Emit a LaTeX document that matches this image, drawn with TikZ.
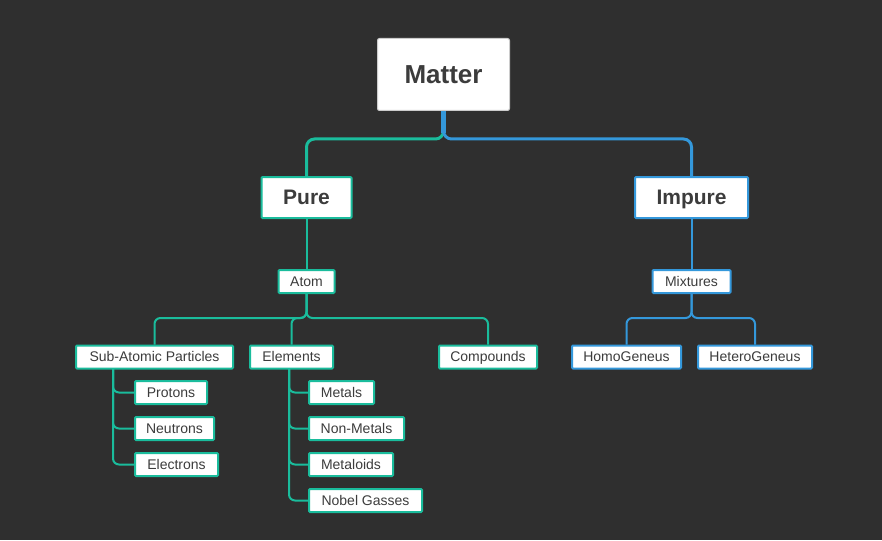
\documentclass[tikz,border=0pt]{standalone}
\usepackage{fontspec}
\setmainfont{Liberation Sans}
\usetikzlibrary{backgrounds}
\definecolor{bg}{HTML}{2F2F2F}
\definecolor{grn}{HTML}{1ABC9C}
\definecolor{blu}{HTML}{3498DB}
\definecolor{txt}{HTML}{3C3C3C}
\definecolor{mborder}{HTML}{CCCCCC}
\begin{document}
\begin{tikzpicture}[x=1pt,y=-1pt,
  box/.style={draw, line width=2pt, fill=white, text=txt, inner sep=0pt,
    rounded corners=1pt, minimum height=23pt, text height=10pt, text depth=0.5pt,
    font=\fontsize{14}{16}\selectfont},
  gbox/.style={box, draw=grn},
  bbox/.style={box, draw=blu},
  big/.style={minimum height=41pt, text height=15pt, text depth=0.5pt,
    font=\fontsize{21}{25}\selectfont\bfseries},
  mbox/.style={draw=mborder, line width=1pt, fill=white, text=txt, rounded corners=2pt,
    text height=18.5pt, text depth=0pt, font=\fontsize{26}{31}\selectfont\bfseries},
  gline/.style={draw=grn, line width=2pt, rounded corners=6pt},
  bline/.style={draw=blu, line width=2pt, rounded corners=6pt},
]
\useasboundingbox (0,0) rectangle (882,540);

\node[mbox, minimum width=132pt, minimum height=72pt] (matter) at (443.5,74.5) {Matter};
\node[gbox, big, minimum width=90pt] (pure) at (306.5,197.5) {Pure};
\node[bbox, big, minimum width=113pt] (impure) at (691.5,197.5) {Impure};
\node[gbox, minimum width=56pt] (atom) at (306.5,281.5) {Atom};
\node[bbox, minimum width=78pt] (mix) at (691.5,281.5) {Mixtures};
\node[gbox, minimum width=157pt] (sub) at (154.5,357) {Sub-Atomic Particles};
\node[gbox, minimum width=83pt] (elem) at (291.5,357) {Elements};
\node[gbox, minimum width=98pt] (comp) at (488,357) {Compounds};
\node[bbox, minimum width=109pt] (homo) at (626.5,357) {HomoGeneus};
\node[bbox, minimum width=114pt] (hetero) at (755,357) {HeteroGeneus};
\node[gbox, minimum width=72pt] (prot) at (171,392.5) {Protons};
\node[gbox, minimum width=79pt] (neut) at (174.5,428.5) {Neutrons};
\node[gbox, minimum width=83pt] (elec) at (176.5,464.5) {Electrons};
\node[gbox, minimum width=65pt] (met) at (341.5,392.5) {Metals};
\node[gbox, minimum width=95pt] (nonmet) at (356.5,428.5) {Non-Metals};
\node[gbox, minimum width=84pt] (metal) at (351,464.5) {Metaloids};
\node[gbox, minimum width=113pt] (nobel) at (365.5,500.5) {Nobel Gasses};

\begin{scope}[on background layer]
\fill[bg] (0,0) rectangle (882,540);
% root connectors
\coordinate (rj) at (443.5,139);
\draw[grn, line width=3pt, rounded corners=8pt] (matter.south) -- (rj) -| (pure.north);
\draw[blu, line width=3pt, rounded corners=8pt] (matter.south) -- (rj) -| (impure.north);
\draw[blu, line width=5pt] (matter.south) -- ++(0,22);

% pure / impure
\draw[gline] (pure.south) -- (atom.north);
\draw[bline] (impure.south) -- (mix.north);

% atom children
\draw[gline] (atom.south) -- ++(0,24) -| (sub.north);
\draw[gline] (atom.south) -- ++(0,24) -| (elem.north);
\draw[gline] (atom.south) -- ++(0,24) -| (comp.north);

% mixtures children
\draw[bline] (mix.south) -- ++(0,24) -| (homo.north);
\draw[bline] (mix.south) -- ++(0,24) -| (hetero.north);

% sub-atomic children
\coordinate (st) at (113,369);
\draw[gline] (st) |- (prot.west);
\draw[gline] (st) |- (neut.west);
\draw[gline] (st) |- (elec.west);

% elements children
\coordinate (et) at (289,369);
\draw[gline] (et) |- (met.west);
\draw[gline] (et) |- (nonmet.west);
\draw[gline] (et) |- (metal.west);
\draw[gline] (et) |- (nobel.west);
\end{scope}
\end{tikzpicture}
\end{document}
